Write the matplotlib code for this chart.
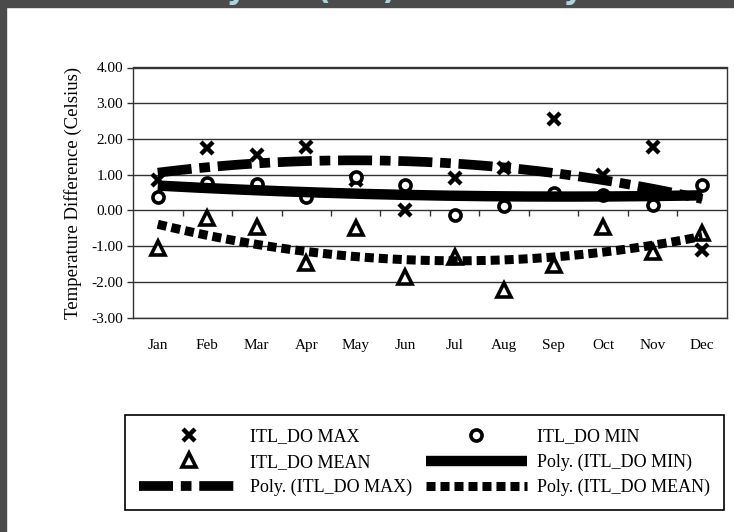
import matplotlib.pyplot as plt
import matplotlib.patches as mpatches
import numpy as np

# Data
months = ['Jan', 'Feb', 'Mar', 'Apr', 'May', 'Jun',
          'Jul', 'Aug', 'Sep', 'Oct', 'Nov', 'Dec']
itl_max = [0.85, 1.74, 1.55, 1.77, 0.85, 0.01, 0.90, 1.18, 2.57, 0.99, 1.78, -1.10]
itl_min = [0.39, 0.77, 0.74, 0.39, 0.95, 0.71, -0.13, 0.13, 0.48, 0.43, 0.15, 0.71]
itl_mean = [-1.05, -0.21, -0.45, -1.47, -0.50, -1.85, -1.29, -2.22, -1.52, -0.45, -1.15, -0.64]
yticks = [-3, -2, -1, 0, 1, 2, 3, 4]

x = np.arange(len(months))

# polynomial trendlines, like Excel's "Poly." trendline (order 2)
xs = np.linspace(x[0], x[-1], 200)
def trend(vals):
    return np.polyval(np.polyfit(x, vals, 2), xs)

plt.rcParams['font.family'] = ['Liberation Serif', 'DejaVu Serif']

fig = plt.figure(figsize=(7.34, 5.32), dpi=100)
ax = fig.add_axes([133/734, 1 - 317.7/532, 594/734, 250.2/532])

# dark slide frame + title that runs off the top
fig.patches.append(mpatches.Rectangle((0, 1 - 7/532), 1, 7/532, transform=fig.transFigure,
                                      color='#4b4b4b', zorder=0))
fig.patches.append(mpatches.Rectangle((0, 0), 6/734, 1, transform=fig.transFigure,
                                      color='#4b4b4b', zorder=0))
fig.text(0.47, 1 + 1/532, 'Monthly Air (ITL) Variability', ha='center', va='baseline',
         fontsize=22, fontweight='bold', color='#a8d6dc', family='DejaVu Sans')

# gridlines
for v in yticks:
    ax.axhline(v, color='#333333', lw=1, zorder=1)

ax.plot(x, itl_max, linestyle='none', marker='x', ms=8, mew=3.2, color='black',
        label='ITL_DO MAX', zorder=3)
ax.plot(x, itl_min, linestyle='none', marker='o', ms=8, mew=2.6, mfc='white', color='black',
        label='ITL_DO MIN', zorder=3)
ax.plot(x, itl_mean, linestyle='none', marker='^', ms=10, mew=2.6, mfc='white', color='black',
        label='ITL_DO MEAN', zorder=3)

l_min, = ax.plot(xs, trend(itl_min), color='black', lw=7.5, solid_capstyle='butt',
                 label='Poly. (ITL_DO MIN)', zorder=4)
l_max, = ax.plot(xs, trend(itl_max), color='black', lw=7.0, dash_capstyle='butt',
                 label='Poly. (ITL_DO MAX)', zorder=4)
l_max.set_dashes([3.5, 0.8, 1.1, 0.8])
l_mean, = ax.plot(xs, trend(itl_mean), color='black', lw=6.5, dash_capstyle='butt',
                  label='Poly. (ITL_DO MEAN)', zorder=4)
l_mean.set_dashes([1.0, 0.55])

# category tick marks on the zero line
ax.vlines(np.arange(0.5, 11.5, 1), -0.16, 0, color='#333333', lw=1, zorder=2)

ax.set_xlim(-0.5, 11.5)
ax.set_ylim(-3, 4)
ax.set_xticks(x)
ax.set_xticklabels(months)
ax.set_yticks(yticks)
ax.set_yticklabels(['%.2f' % v for v in yticks])
ax.tick_params(axis='x', length=0, pad=15, labelsize=11)
ax.tick_params(axis='y', length=4, width=1, pad=3, labelsize=11, color='#333333')
for s in ax.spines.values():
    s.set_color('#333333')
    s.set_linewidth(1)
ax.set_ylabel('Temperature Difference (Celsius)', fontsize=13.5, labelpad=7)

handles, labels = ax.get_legend_handles_labels()
order = ['ITL_DO MAX', 'ITL_DO MEAN', 'Poly. (ITL_DO MAX)',
         'ITL_DO MIN', 'Poly. (ITL_DO MIN)', 'Poly. (ITL_DO MEAN)']
hmap = dict(zip(labels, handles))
leg = fig.legend([hmap[k] for k in order], order, ncol=2, loc='lower left',
                 bbox_to_anchor=(125/734, 1 - 510/532, 599/734, 90/532), mode='expand',
                 borderaxespad=0, fontsize=13, handlelength=5.6, handletextpad=0.6,
                 labelspacing=0.45, fancybox=False, edgecolor='black', framealpha=1,
                 borderpad=0.75)
leg.get_frame().set_linewidth(1.2)

fig.savefig('out.png', dpi=100)
